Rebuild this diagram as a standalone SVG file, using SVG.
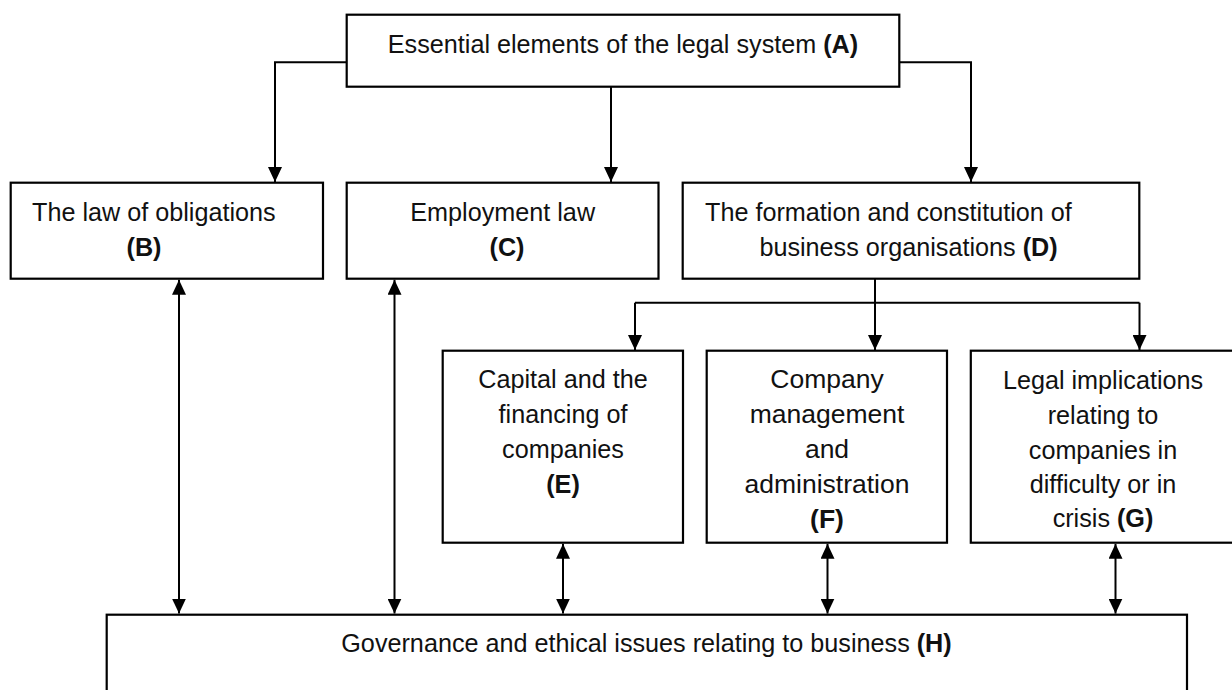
<svg xmlns="http://www.w3.org/2000/svg" width="1232" height="690" viewBox="0 0 1232 690">
<style>
.box{fill:#fff;stroke:#000;stroke-width:2.2}
.t{font-family:"Liberation Sans",Arial,sans-serif;font-size:25.2px;fill:#111}
.m{text-anchor:middle}
.f{font-size:26.5px}
.b{font-weight:bold}
.c{fill:none;stroke:#000;stroke-width:2}
</style>
<defs>
<marker id="ah" viewBox="0 0 15 14" refX="15" refY="7" markerWidth="15" markerHeight="14" markerUnits="userSpaceOnUse" orient="auto-start-reverse">
<path d="M0,0 L15,7 L0,14 z" fill="#000"/>
</marker>
</defs>
<rect width="1232" height="690" fill="#fff"/>
<g id="connectors">
<path class="c" d="M346.7,62.3 H275 V182" marker-end="url(#ah)"/>
<path class="c" d="M611,86.7 V182" marker-end="url(#ah)"/>
<path class="c" d="M899.3,62.3 H971 V182" marker-end="url(#ah)"/>
<path class="c" d="M875,278.7 V302.7"/>
<path class="c" d="M635,302.7 H1139.5"/>
<path class="c" d="M635,302.7 V350" marker-end="url(#ah)"/>
<path class="c" d="M875,302.7 V350" marker-end="url(#ah)"/>
<path class="c" d="M1139.5,302.7 V350" marker-end="url(#ah)"/>
<path class="c" d="M179,279.8 V613.6" marker-start="url(#ah)" marker-end="url(#ah)"/>
<path class="c" d="M394.5,279.8 V613.6" marker-start="url(#ah)" marker-end="url(#ah)"/>
<path class="c" d="M563,543.8 V613.6" marker-start="url(#ah)" marker-end="url(#ah)"/>
<path class="c" d="M827.5,543.8 V613.6" marker-start="url(#ah)" marker-end="url(#ah)"/>
<path class="c" d="M1115.5,543.8 V613.6" marker-start="url(#ah)" marker-end="url(#ah)"/>
</g>
<g id="A">
<rect class="box" x="346.7" y="14.7" width="552.6" height="72"/>
<text class="t m" x="623" y="52.5">Essential elements of the legal system <tspan class="b">(A)</tspan></text>
</g>
<g id="B">
<rect class="box" x="10.7" y="182.7" width="312.3" height="96"/>
<text class="t" x="32" y="220.7">The law of obligations</text>
<text class="t m b" x="144" y="256">(B)</text>
</g>
<g id="C">
<rect class="box" x="346.7" y="182.7" width="311.8" height="96"/>
<text class="t m" x="502.7" y="220.7">Employment law</text>
<text class="t m b" x="507" y="256">(C)</text>
</g>
<g id="D">
<rect class="box" x="682.7" y="182.7" width="456.6" height="96"/>
<text class="t" x="705" y="220.7">The formation and constitution of</text>
<text class="t m" x="908.5" y="256">business organisations <tspan class="b">(D)</tspan></text>
</g>
<g id="E">
<rect class="box" x="442.7" y="350.7" width="240.3" height="192"/>
<text class="t m" x="563" y="388.3">Capital and the</text>
<text class="t m" x="563" y="423.3">financing of</text>
<text class="t m" x="563" y="458.3">companies</text>
<text class="t m b" x="563" y="493.3">(E)</text>
</g>
<g id="F">
<rect class="box" x="706.7" y="350.7" width="240.3" height="192"/>
<text class="t f m" x="827" y="388">Company</text>
<text class="t f m" x="827" y="423">management</text>
<text class="t f m" x="827" y="458">and</text>
<text class="t f m" x="827" y="493">administration</text>
<text class="t f m b" x="827" y="528">(F)</text>
</g>
<g id="G">
<rect class="box" x="970.8" y="350.7" width="280" height="192"/>
<text class="t m" x="1103" y="389">Legal implications</text>
<text class="t m" x="1103" y="423.5">relating to</text>
<text class="t m" x="1103" y="458.5">companies in</text>
<text class="t m" x="1103" y="493">difficulty or in</text>
<text class="t m" x="1103" y="527">crisis <tspan class="b">(G)</tspan></text>
</g>
<g id="H">
<rect class="box" x="106.7" y="614.7" width="1080.3" height="100"/>
<text class="t m" x="646.5" y="651.7">Governance and ethical issues relating to business <tspan class="b">(H)</tspan></text>
</g>
</svg>
